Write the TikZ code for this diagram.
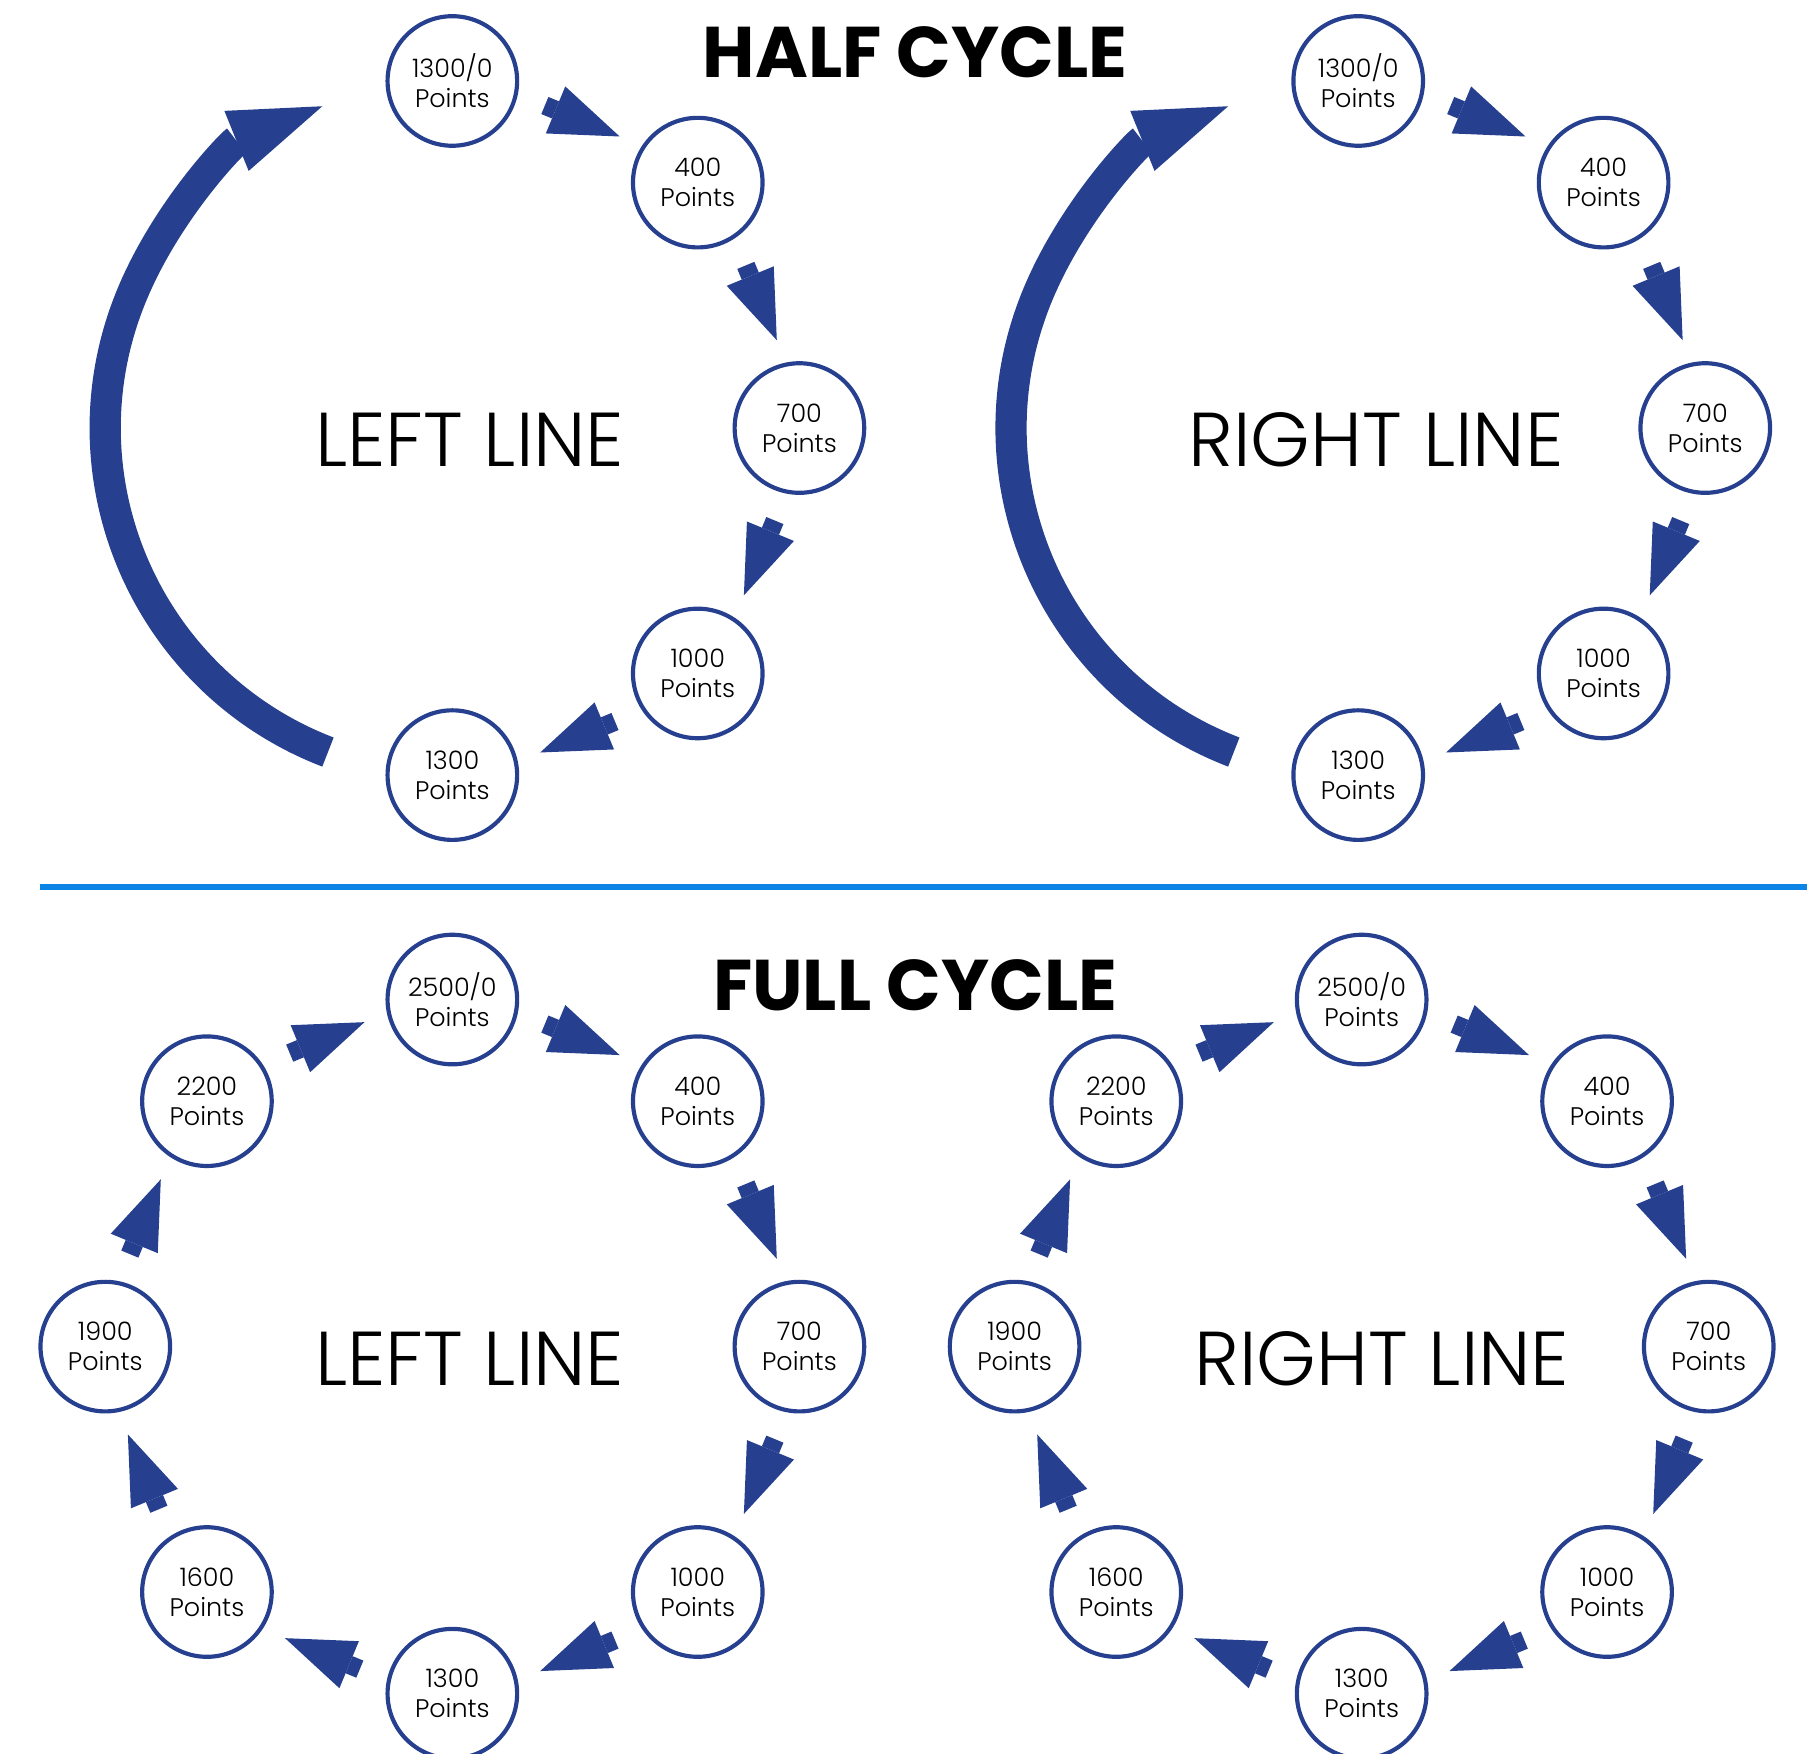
\documentclass[tikz,border=0pt]{standalone}
\usepackage{fontspec}
\setmainfont{Poppins}
\newfontfamily\lightfont{Poppins Light}
\usetikzlibrary{arrows.meta, calc}

\definecolor{ringblue}{RGB}{38,64,143}
\definecolor{ruleblue}{RGB}{12,132,230}

\tikzset{
  pts/.style = {circle, draw = ringblue, line width = 1.8pt, minimum size = 56pt, inner sep = 0pt,
                align = center, font = \lightfont\fontsize{11}{13}\selectfont},
  hop/.style = {ringblue, line width = 8pt, -{Triangle[length = 30pt, width = 22pt, line width = 0pt]}},
  loopback/.style = {ringblue, line width = 13.5pt, -{Triangle[length = 40pt, width = 28pt, line width = 0pt]}},
  cycletitle/.style = {inner sep = 0pt, font = \bfseries\fontsize{31}{31}\selectfont},
  linename/.style = {inner sep = 0pt, font = \lightfont\fontsize{33}{33}\selectfont}
}

\newcommand{\hopfrom}[2]{\draw [hop] ($(#1)!41pt!(#2)!5.5pt!90:(#2)$) -- ($(#1)!76pt!(#2)!5.5pt!90:(#2)$);}

\begin{document}
\begin{tikzpicture}[x = 0.5pt, y = 0.5pt]
  \useasboundingbox (0, 0) rectangle (1568, 1516);
  \coordinate (tl) at (391, 1146);
  \coordinate (tr) at (1174, 1146);
  \coordinate (bl) at (391, 352);
  \coordinate (br) at (1177, 352);

  % half cycle
  \node [cycletitle] (half) at (791, 1471) {HALF CYCLE};
  \foreach \side in {tl, tr} {
    \foreach \val [count = \i] in {1300/0, 400, 700, 1000, 1300}
      \node [pts] (\side\i) at ($(\side) + ({135 - 45*\i}:300)$) {\val\\Points};
    \foreach \i/\j in {1/2, 2/3, 3/4, 4/5} {\hopfrom{\side\i}{\side\j}}
    \draw [loopback] ($(\side) + (249:300)$) arc [start angle = 249, end angle = 112, radius = 150pt];
  }
  \node [linename] (lefthalf) at (406, 1135.5) {LEFT LINE};
  \node [linename] (righthalf) at (1189.5, 1135.5) {RIGHT LINE};

  \draw [ruleblue, line width = 2.5pt] (35, 749) -- (1562, 749);

  % full cycle
  \node [cycletitle] (full) at (791, 664) {FULL CYCLE};
  \foreach \side in {bl, br} {
    \foreach \val [count = \i] in {2500/0, 400, 700, 1000, 1300, 1600, 1900, 2200}
      \node [pts] (\side\i) at ($(\side) + ({135 - 45*\i}:300)$) {\val\\Points};
    \foreach \i/\j in {1/2, 2/3, 3/4, 4/5, 5/6, 6/7, 7/8, 8/1} {\hopfrom{\side\i}{\side\j}}
  }
  \node [linename] (leftfull) at (406, 341.5) {LEFT LINE};
  \node [linename] (rightfull) at (1194.5, 341.5) {RIGHT LINE};
\end{tikzpicture}
\end{document}
